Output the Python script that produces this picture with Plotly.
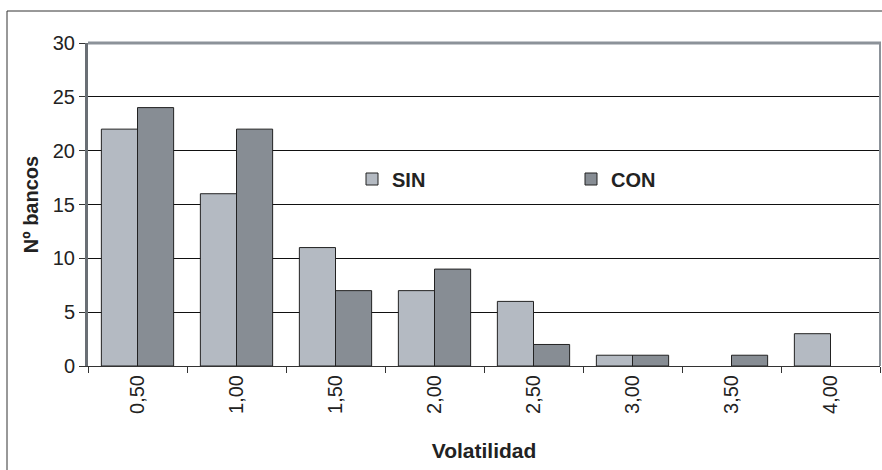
import plotly.graph_objects as go

categories = ["0,50", "1,00", "1,50", "2,00", "2,50", "3,00", "3,50", "4,00"]
sin_values = [22, 16, 11, 7, 6, 1, 0, 3]
con_values = [24, 22, 7, 9, 2, 1, 1, 0]
y_ticks = [0, 5, 10, 15, 20, 25, 30]

W, H = 882, 470
L, R, T, B = 88, 2, 43, 104
pw = W - L - R
ph = H - T - B

font_family = "Liberation Sans, Arial, sans-serif"

def nz(vals):
    return [v if v else None for v in vals]

fig = go.Figure()
fig.add_trace(go.Bar(
    name="SIN", x=categories, y=nz(sin_values),
    marker=dict(color="#b4bac2", line=dict(color="#222222", width=1)),
))
fig.add_trace(go.Bar(
    name="CON", x=categories, y=nz(con_values),
    marker=dict(color="#878d94", line=dict(color="#222222", width=1)),
))

def px_x(x):
    return (x - L) / pw

def px_y(y):
    return (H - B - y) / ph

shapes = [
    # outer chart border
    dict(type="rect", xref="paper", yref="paper",
         x0=px_x(7), x1=px_x(890), y0=px_y(480), y1=px_y(11),
         line=dict(color="#333333", width=1), layer="below"),
    # plot area top/right border
    dict(type="line", xref="paper", yref="paper", x0=0, x1=px_x(881), y0=1, y1=1,
         line=dict(color="#8c9299", width=3)),
    dict(type="line", xref="paper", yref="paper", x0=px_x(880), x1=px_x(880), y0=0, y1=1,
         line=dict(color="#8c9299", width=2)),
]

fig.update_layout(
    width=W, height=H,
    margin=dict(l=L, r=R, t=T, b=B, autoexpand=False),
    paper_bgcolor="white", plot_bgcolor="white",
    barmode="group", bargap=0.27, bargroupgap=0,
    font=dict(family=font_family, size=20, color="#222222"),
    showlegend=True,
    legend=dict(orientation="h", x=px_x(352), y=px_y(179), xanchor="left", yanchor="middle",
                entrywidth=174, entrywidthmode="pixels",
                font=dict(family=font_family, size=20, color="#222222", weight="bold"),
                bgcolor="rgba(0,0,0,0)", itemwidth=30),
    shapes=shapes,
    xaxis=dict(
        type="category", tickangle=-90, tickson="boundaries",
        ticks="outside", ticklen=6, tickcolor="#333333",
        showline=True, linecolor="#333333", linewidth=1,
        showgrid=False,
        tickfont=dict(size=20),
        title=dict(text="Volatilidad", font=dict(size=21, weight="bold"), standoff=30),
    ),
    yaxis=dict(
        range=[0, 30], tickvals=y_ticks,
        ticks="outside", ticklen=6, tickcolor="#333333",
        showline=True, linecolor="#6a6f75", linewidth=3,
        showgrid=True, gridcolor="#111111", gridwidth=1,
        zeroline=False,
        tickfont=dict(size=20),
        title=dict(text="Nº bancos", font=dict(size=20, weight="bold"), standoff=9),
    ),
)

fig.write_html("out.html", config={"displayModeBar": False},
               post_script="document.body.style.margin='0';document.body.style.overflow='hidden';")
